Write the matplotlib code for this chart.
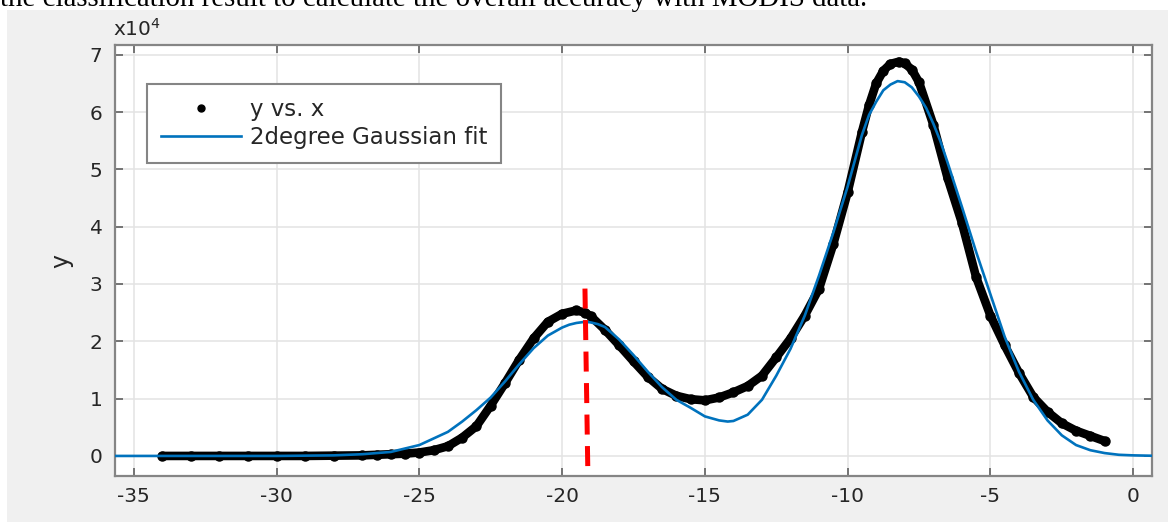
import matplotlib
matplotlib.use("Agg")
import matplotlib.pyplot as plt
from matplotlib.patches import Rectangle
from matplotlib.lines import Line2D

# --- Data (y values in units of 1e4) ---
data_x = [-34, -33, -32, -31, -30, -29, -28, -27, -26.5, -26, -25.5, -25, -24.5, -24,
          -23.5, -23, -22.5, -22, -21.5, -21, -20.5, -20, -19.5, -19.2, -19, -18.5,
          -18, -17.5, -17, -16.5, -16, -15.5, -15, -14.5, -14, -13.5, -13, -12.5,
          -12, -11.5, -11, -10.5, -10, -9.5, -9.25, -9, -8.75, -8.5, -8.2, -8, -7.75,
          -7.5, -7, -6.5, -6, -5.5, -5, -4.5, -4, -3.5, -3, -2.5, -2, -1.5, -1]
data_y = [0.0, 0.0, 0.0, 0.0, 0.0, 0.0, 0.005, 0.01, 0.02, 0.03, 0.04, 0.06, 0.1, 0.17,
          0.32, 0.52, 0.88, 1.27, 1.68, 2.05, 2.34, 2.48, 2.54, 2.50, 2.44, 2.20,
          1.93, 1.65, 1.38, 1.17, 1.05, 0.99, 0.97, 1.02, 1.11, 1.22, 1.40, 1.72,
          2.05, 2.45, 2.92, 3.70, 4.60, 5.65, 6.12, 6.50, 6.72, 6.84, 6.88, 6.85, 6.74,
          6.52, 5.78, 4.85, 4.07, 3.12, 2.45, 1.93, 1.45, 1.03, 0.77, 0.57, 0.44, 0.35,
          0.26]

fit_x = [-36, -30, -28, -27, -26, -25, -24, -23.5, -23, -22.5, -22, -21.5, -21, -20.5,
         -20, -19.75, -19.5, -19.2, -19, -18.75, -18.5, -18, -17.5, -17, -16.5, -16,
         -15.5, -15, -14.5, -14.2, -14, -13.5, -13, -12.5, -12, -11.5, -11, -10.5,
         -10, -9.5, -9.25, -9, -8.75, -8.5, -8.25, -8, -7.75, -7.5, -7.25, -7,
         -6.75, -6.5, -6, -5.5, -5, -4.5, -4, -3.5, -3, -2.5, -2, -1.5, -1, -0.5,
         0, 1]
fit_y = [0.0, 0.0, 0.01, 0.03, 0.07, 0.19, 0.42, 0.6, 0.8, 1.02, 1.3, 1.6, 1.88, 2.1,
         2.24, 2.29, 2.32, 2.34, 2.33, 2.30, 2.25, 2.03, 1.76, 1.47, 1.2, 0.98,
         0.84, 0.69, 0.62, 0.60, 0.61, 0.72, 0.98, 1.4, 1.87, 2.45, 3.15, 3.9,
         4.7, 5.6, 5.95, 6.18, 6.38, 6.48, 6.54, 6.52, 6.43, 6.27, 6.07, 5.8,
         5.49, 5.12, 4.35, 3.56, 2.82, 2.08, 1.47, 0.98, 0.62, 0.36, 0.19, 0.1, 0.05,
         0.02, 0.01, 0.0]

split_x = [-19.2, -19.1]
split_y = [2.92, -0.25]

x_ticks = [-35, -30, -25, -20, -15, -10, -5, 0]
y_ticks = [0, 1, 2, 3, 4, 5, 6, 7]

# --- Figure ---
fig = plt.figure(figsize=(11.68, 5.22), dpi=100)
fig.patch.set_facecolor("white")
fig.patches.append(Rectangle((7 / 1168, 0), 1 - 7 / 1168, 1 - 10 / 522,
                             transform=fig.transFigure, facecolor="#f0f0f0",
                             edgecolor="none", zorder=-10))
fig.text(0.0, 1 - 6 / 522,
         "the classification result to calculate the overall accuracy with MODIS data.",
         family="Liberation Serif", fontsize=20.8, va="baseline", ha="left", color="black")

ax = fig.add_axes([115 / 1168, 46 / 522, 1037 / 1168, 431 / 522])
ax.set_facecolor("white")

# dense sample dots -> thick black band
ax.plot(data_x, data_y, color="black", lw=6.2, solid_capstyle="round",
        solid_joinstyle="round", zorder=3)
ax.plot(data_x, data_y, "o", color="black", ms=6.5, zorder=3)
ax.plot(fit_x, fit_y, color="#0072BD", lw=1.9, zorder=4)
ax.plot(split_x, split_y, color="red", lw=3.6, dashes=(4, 2.3), zorder=5,
        clip_on=False)

ax.set_xlim(-35.66, 0.66)
ax.set_ylim(-0.35, 7.17)
ax.set_xticks(x_ticks)
ax.set_yticks(y_ticks)
ax.set_xticklabels([str(v) for v in x_ticks])
ax.set_yticklabels([str(v) for v in y_ticks])
ax.grid(True, color="#e3e3e3", lw=1.1)
ax.set_axisbelow(True)

for s in ax.spines.values():
    s.set_color("#858585")
    s.set_linewidth(1.6)
ax.tick_params(direction="in", length=6, width=1.3, color="#6a6a6a",
               labelsize=14.5, labelcolor="#262626", top=True, right=True)
ax.tick_params(axis="x", pad=8)
ax.tick_params(axis="y", pad=9)

ax.set_ylabel("y", fontsize=17, color="#262626", labelpad=12)
ax.text(-0.002, 1.012, r"x10$^{4}$", transform=ax.transAxes, fontsize=14.5,
        color="#262626", ha="left", va="bottom")

handles = [Line2D([], [], ls="none", marker="o", ms=5, color="black"),
           Line2D([], [], color="#0072BD", lw=1.9)]
leg = ax.legend(handles, ["y vs. x", "2degree Gaussian fit"], loc="upper left",
                bbox_to_anchor=(0.0309, 0.9095), borderaxespad=0, fontsize=16.5,
                handlelength=3.5, handletextpad=0.4, fancybox=False, framealpha=1,
                edgecolor="#858585", borderpad=0.6, labelspacing=0.25)
leg.get_frame().set_linewidth(1.5)
for t in leg.get_texts():
    t.set_color("#262626")

fig.savefig("out.png", dpi=100)
